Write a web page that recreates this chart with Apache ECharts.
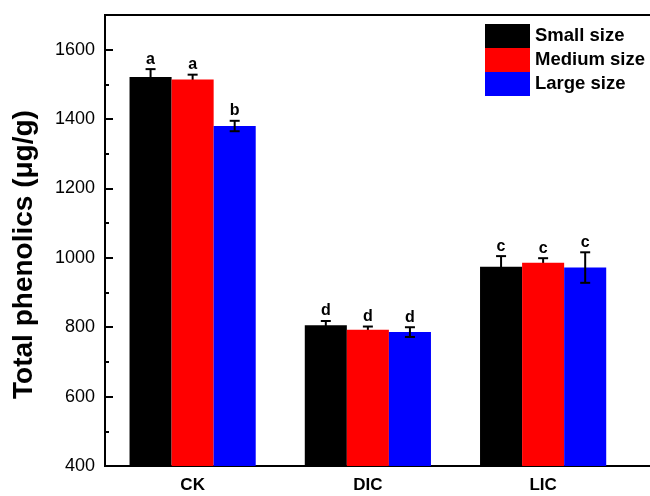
<!DOCTYPE html>
<html>
<head>
<meta charset="utf-8">
<title>Total phenolics</title>
<script src="https://cdn.jsdelivr.net/npm/echarts@6/dist/echarts.min.js"></script>
<style>
  html, body { margin: 0; padding: 0; background: #fff; }
  #chart { width: 650px; height: 496px; }
</style>
</head>
<body>
<div id="chart"></div>
<script>
// Treatments along the x axis
const categories = ['CK', 'DIC', 'LIC'];

// Mean total phenolics (µg/g) per size class
const smallSize  = [1521, 806, 974];
const mediumSize = [1514, 793, 986];
const largeSize  = [1380, 786, 972];

// Standard deviations
const smallErr  = [23, 12, 31];
const mediumErr = [14, 9, 13];
const largeErr  = [15, 14, 44];

// Significance letters
const smallLetters  = ['a', 'd', 'c'];
const mediumLetters = ['a', 'd', 'c'];
const largeLetters  = ['b', 'd', 'c'];

// Y axis scale
const yMin = 400;
const yMax = 1700;
const yStep = 200;

const seriesNames = ['Small size', 'Medium size', 'Large size'];
const seriesColors = ['#000000', '#ff0000', '#0000ff'];
const seriesValues = [smallSize, mediumSize, largeSize];
const seriesErrors = [smallErr, mediumErr, largeErr];
const seriesLetters = [smallLetters, mediumLetters, largeLetters];

const FONT = "'Liberation Sans', Arial, Helvetica, sans-serif";
const CATEGORY_GAP = 0.28;

// Error bar with caps plus the significance letter above it
function makeErrorRenderer(seriesIndex, letters) {
  return function (params, api) {
    const idx = api.value(0);
    const val = api.value(1);
    const err = api.value(2);
    const band = api.size([1, 0])[0];
    const barW = band * (1 - CATEGORY_GAP) / 3;
    const center = api.coord([idx, val]);
    const x = center[0] + (seriesIndex - 1) * barW;
    const top = api.coord([idx, val + err])[1];
    const bottom = api.coord([idx, val - err])[1];
    const cap = 5;
    const stroke = { stroke: '#000', lineWidth: 2 };
    return {
      type: 'group',
      children: [
        { type: 'line', shape: { x1: x, y1: top, x2: x, y2: bottom }, style: stroke },
        { type: 'line', shape: { x1: x - cap, y1: top, x2: x + cap, y2: top }, style: stroke },
        { type: 'line', shape: { x1: x - cap, y1: bottom, x2: x + cap, y2: bottom }, style: stroke },
        {
          type: 'text',
          z2: 10,
          style: {
            x: x, y: top - 2,
            text: letters[params.dataIndex],
            align: 'center', verticalAlign: 'bottom',
            fill: '#000',
            font: 'bold 16px ' + FONT
          }
        }
      ]
    };
  };
}

const series = [];
seriesNames.forEach(function (name, i) {
  series.push({
    name: name,
    type: 'bar',
    data: seriesValues[i],
    barGap: '0%',
    barCategoryGap: (CATEGORY_GAP * 100) + '%',
    itemStyle: { color: seriesColors[i] },
    z: 2
  });
});
seriesNames.forEach(function (name, i) {
  series.push({
    type: 'custom',
    name: name + ' SD',
    data: seriesValues[i].map(function (v, k) { return [k, v, seriesErrors[i][k]]; }),
    encode: { x: 0, y: 1 },
    renderItem: makeErrorRenderer(i, seriesLetters[i]),
    // lower whisker of the black and red bars sits behind the bar
    z: i === 2 ? 3 : 1,
    silent: true
  });
});

const chart = echarts.init(document.getElementById('chart'), null, { renderer: 'canvas' });
chart.setOption({
  animation: false,
  backgroundColor: '#fff',
  textStyle: { fontFamily: FONT },
  grid: {
    left: 105,
    top: 15,
    width: 701,
    height: 451,
    outerBoundsMode: 'none',
    containLabel: false,
    show: true,
    borderColor: '#000',
    borderWidth: 2,
    backgroundColor: 'transparent'
  },
  legend: {
    data: seriesNames,
    orient: 'vertical',
    left: 485,
    top: 24,
    padding: 0,
    itemWidth: 45,
    itemHeight: 24,
    itemGap: 0,
    icon: 'rect',
    textStyle: { fontFamily: FONT, fontWeight: 'bold', fontSize: 18.5, color: '#000' }
  },
  xAxis: {
    type: 'category',
    // trailing empty slot lets the frame run on past the last group
    data: categories.concat(['']),
    axisLine: { lineStyle: { color: '#000', width: 2 } },
    axisTick: { alignWithLabel: true, length: 7, lineStyle: { color: '#000', width: 2 } },
    axisLabel: {
      margin: 11,
      fontFamily: FONT, fontWeight: 'bold', fontSize: 17, color: '#000'
    }
  },
  yAxis: {
    type: 'value',
    min: yMin,
    max: yMax,
    interval: yStep,
    name: 'Total phenolics (μg/g)',
    nameLocation: 'middle',
    nameGap: 67,
    nameTextStyle: {
      fontFamily: FONT, fontWeight: 'bold', fontSize: 28, color: '#000',
      padding: [0, 28, 0, 0]
    },
    axisLine: { show: true, lineStyle: { color: '#000', width: 2 } },
    axisTick: { show: true, inside: true, length: 8, lineStyle: { color: '#000', width: 2 } },
    minorTick: { show: true, splitNumber: 2, length: 4, lineStyle: { color: '#000', width: 2 } },
    splitLine: { show: false },
    axisLabel: {
      margin: 10,
      fontFamily: FONT, fontSize: 18, color: '#000',
      formatter: function (v) { return v >= yMax ? '' : String(v); }
    }
  },
  series: series
});
</script>
</body>
</html>
